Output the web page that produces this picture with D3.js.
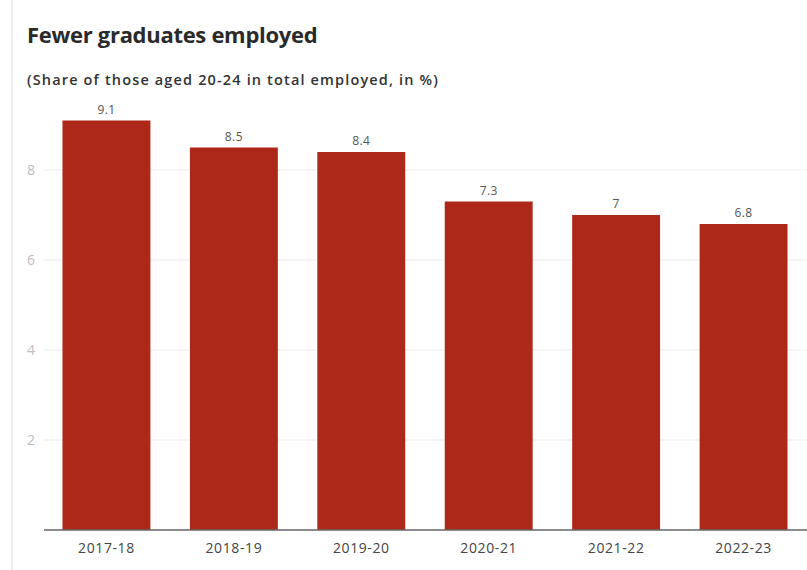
<!DOCTYPE html>
<html>
<head>
<meta charset="utf-8">
<script src="https://cdn.jsdelivr.net/npm/d3@7"></script>
<style>
  body { margin: 0; background: #fff; }
  svg { display: block; font-family: "Open Sans", "Noto Sans", sans-serif; }
</style>
</head>
<body>
<svg id="chart"></svg>
<script>
var years  = ["2017-18", "2018-19", "2019-20", "2020-21", "2021-22", "2022-23"];
var shares = [9.1, 8.5, 8.4, 7.3, 7, 6.8];
var yTicks = [2, 4, 6, 8];

var w = 807, h = 570;
var svg = d3.select("#chart").attr("width", w).attr("height", h);

// faint left rule
svg.append("line").attr("x1", 12).attr("x2", 12).attr("y1", 0).attr("y2", h)
  .attr("stroke", "#eeeeee").attr("stroke-width", 2);

svg.append("text").attr("x", 27).attr("y", 43)
  .attr("font-size", 22).attr("font-weight", 700).attr("fill", "#2a2a2a")
  .attr("letter-spacing", -0.3)
  .text("Fewer graduates employed");

svg.append("text").attr("x", 27).attr("y", 85)
  .attr("font-size", 14.5).attr("font-weight", 600).attr("fill", "#333")
  .attr("letter-spacing", 1.15)
  .text("(Share of those aged 20-24 in total employed, in %)");

var x = d3.scaleBand().domain(years).range([44, 806])
  .paddingInner(0.31).paddingOuter(0.145);
var y = d3.scaleLinear().domain([0, 10]).range([530, 80]);

// gridlines
svg.append("g").selectAll("line").data(yTicks).enter().append("line")
  .attr("x1", 44).attr("x2", w)
  .attr("y1", function(d) { return y(d); }).attr("y2", function(d) { return y(d); })
  .attr("stroke", "#ececec").attr("stroke-width", 1);

// y labels
svg.append("g").selectAll("text").data(yTicks).enter().append("text")
  .attr("x", 31).attr("y", function(d) { return y(d) + 5; })
  .attr("text-anchor", "middle").attr("font-size", 14).attr("fill", "#bdbdbd")
  .text(function(d) { return d; });

// bars
svg.append("g").selectAll("rect").data(shares).enter().append("rect")
  .attr("x", function(d, i) { return x(years[i]); })
  .attr("y", function(d) { return y(d); })
  .attr("width", x.bandwidth())
  .attr("height", function(d) { return y(0) - y(d); })
  .attr("fill", "#ad2819");

// value labels
svg.append("g").selectAll("text").data(shares).enter().append("text")
  .attr("x", function(d, i) { return x(years[i]) + x.bandwidth() / 2; })
  .attr("y", function(d) { return y(d) - 7; })
  .attr("text-anchor", "middle").attr("font-size", 12).attr("fill", "#555")
  .attr("letter-spacing", 0.4)
  .text(function(d) { return d; });

// x axis
var xAxis = svg.append("g").attr("transform", "translate(0," + y(0) + ")")
  .call(d3.axisBottom(x).tickSize(0).tickPadding(13));
xAxis.select(".domain").attr("d", "M44,0H" + w).attr("stroke", "#666").attr("stroke-width", 1.5);
xAxis.selectAll("text").attr("font-size", 14).attr("fill", "#444")
  .attr("letter-spacing", 0.6)
  .attr("font-family", "'Open Sans', sans-serif");
</script>
</body>
</html>
